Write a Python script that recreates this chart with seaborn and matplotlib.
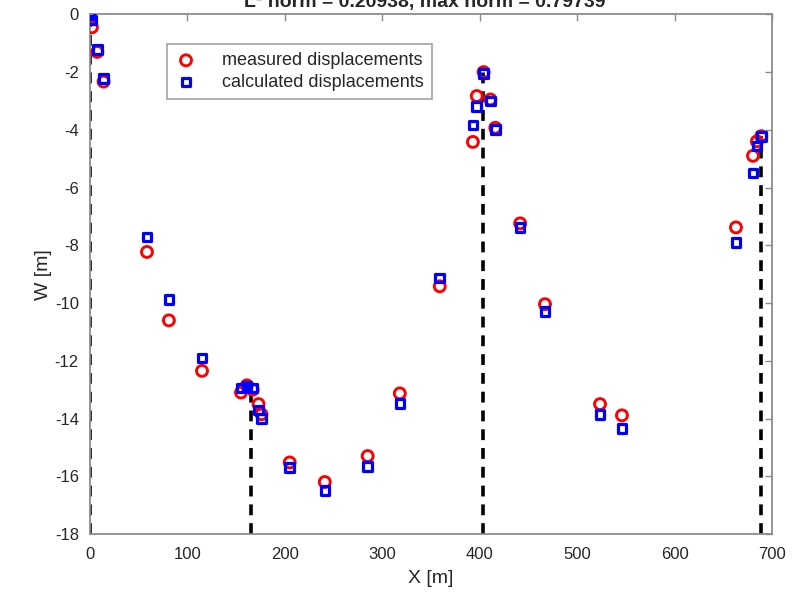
import numpy as np
import pandas as pd
import matplotlib
matplotlib.use("Agg")
import matplotlib.pyplot as plt
import seaborn as sns

# Station positions along the profile [m]
x_pos = [0, 2, 7.5, 14, 58.5, 81, 115, 155, 161, 167, 173, 176, 205, 241, 285,
         318, 359, 393, 397, 404, 411, 416, 441.5, 467, 523.5, 546, 663, 680.5,
         684.5, 689]
# Vertical displacements [m]
w_measured = [-0.1, -0.45, -1.3, -2.33, -8.23, -10.6, -12.35, -13.1, -12.85,
              -13.0, -13.5, -13.85, -15.52, -16.2, -15.3, -13.13, -9.42, -4.42,
              -2.83, -2.0, -2.95, -3.93, -7.24, -10.04, -13.5, -13.89, -7.38,
              -4.9, -4.4, -4.22]
w_calculated = [-0.02, -0.2, -1.21, -2.22, -7.72, -9.87, -11.9, -12.95, -12.9,
                -12.95, -13.7, -14.0, -15.69, -16.5, -15.66, -13.47, -9.14,
                -3.84, -3.2, -2.04, -3.0, -3.98, -7.38, -10.29, -13.86, -14.34,
                -7.9, -5.49, -4.56, -4.24]
# Supports (dashed verticals) and their top elevations
support_x = [0, 165, 403, 689]
support_top = [0, -13.0, -2.0, -4.2]

title_text = "L\u00b2 norm = 0.20938, max norm = 0.79739"

sns.set_style("white")
plt.rcParams["font.family"] = ["Liberation Sans", "DejaVu Sans"]
plt.rcParams["axes.unicode_minus"] = False

fig = plt.figure(figsize=(8.04, 5.97), dpi=100)
ax = fig.add_axes([0.1119, 0.1055, 0.9602 - 0.1119, 0.976 - 0.1055])

# dashed support lines from the base up to the top elevation
ax.vlines(support_x, ymin=-18, ymax=support_top, colors="black",
          linewidth=2.6, linestyles=(0, (3.0, 2.2)), zorder=2)

df = pd.DataFrame({"x": x_pos, "measured": w_measured,
                   "calculated": w_calculated})

sns.scatterplot(data=df, x="x", y="measured", ax=ax, marker="o", s=62,
                facecolors="none", edgecolor="#ff0000", linewidth=2.1,
                label="measured displacements", zorder=3)
sns.scatterplot(data=df, x="x", y="calculated", ax=ax, marker="s", s=38,
                facecolors="none", edgecolor="#0000ff", linewidth=2.3,
                label="calculated displacements", zorder=4)

ax.set_xlim(0, 700)
ax.set_ylim(-18, 0)
ax.set_xticks(np.arange(0, 701, 100))
ax.set_yticks(np.arange(-18, 1, 2))

spine_color = "#8c8c8c"
for s in ax.spines.values():
    s.set_visible(True)
    s.set_color(spine_color)
    s.set_linewidth(1.3)
ax.tick_params(direction="in", length=5, width=1.0, color=spine_color,
               top=True, right=True, labelsize=12, labelcolor="#262626")
ax.tick_params(axis="x", pad=9)
ax.tick_params(axis="y", pad=8)

ax.set_xlabel("X [m]", fontsize=14, color="#262626", labelpad=6)
ax.set_ylabel("W [m]", fontsize=14, color="#262626", labelpad=2)

leg = ax.legend(loc="upper left", bbox_to_anchor=(0.113, 0.943),
                fontsize=13, frameon=True, fancybox=False, borderpad=0.45,
                handletextpad=1.4, handlelength=1.2, labelspacing=0.25,
                borderaxespad=0)
leg.get_frame().set_edgecolor("#8c8c8c")
leg.get_frame().set_linewidth(1.2)

fig.text(0.528, 1 - 7 / 597, title_text, ha="center", va="baseline",
         fontsize=14, fontweight="bold", color="#262626")

fig.savefig("out.png", dpi=100, facecolor="white")
